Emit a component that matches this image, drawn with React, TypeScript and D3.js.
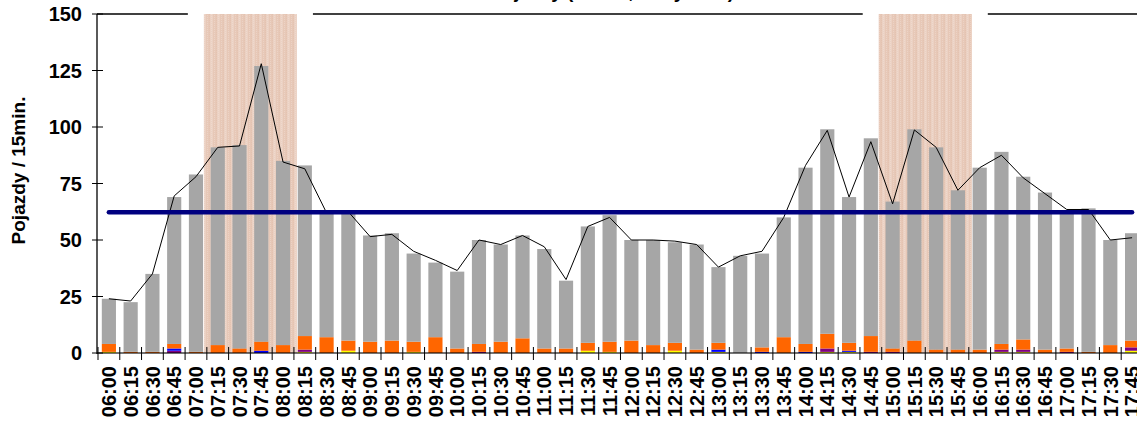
import React from "react";
import * as d3 from "d3";

const categories = [
  "06:00","06:15","06:30","06:45","07:00","07:15","07:30","07:45",
  "08:00","08:15","08:30","08:45","09:00","09:15","09:30","09:45",
  "10:00","10:15","10:30","10:45","11:00","11:15","11:30","11:45",
  "12:00","12:15","12:30","12:45","13:00","13:15","13:30","13:45",
  "14:00","14:15","14:30","14:45","15:00","15:15","15:30","15:45",
  "16:00","16:15","16:30","16:45","17:00","17:15","17:30","17:45",
];

// stacked series, bottom to top
const motocykle = [0.5,0,0,0,0,0,0,0,0,0.5,0,1,0,0,0.5,0,0,0,0,0,0,0,1,0.5,0,0,1,0,0.5,0,0,0,0,0.5,0.5,0,0,0,0,0,0,0.5,0.5,0,0,0,0,1];
const autobusy = [0,0,0,1,0,0,0,0,0,1,0,0,0,0,0,0,0,0.5,0,0,0,0,0,0,0,0,0,0,0,0,0,0,0,1.5,0,0.5,0.5,0,0,0,0,1,1,0,0.5,0,0,1.5];
const ciezarowe = [0,0,0,1,0,0,0,1,0,0,0,0,0,0,0,0,0,0,0,0,0,0,0,0,0,0,0,0,1,0,0.5,0,0.5,0,0.5,0,0,0,0,0,0,0,0,0,0,0,0,0];
const dostawcze = [3.5,0.5,0.5,2,0.5,3.5,2,4,3.5,6,7,4.5,5,5.5,4.5,7,2,3.5,5,6.5,2,2,3.5,4.5,5.5,3.5,3.5,1.5,3,0,2,7,3.5,6.5,3.5,7,1.5,5.5,1.5,1.5,1.5,2.5,4.5,1.5,1.5,0.5,3.5,3];
const osobowe = [20,22,34.5,65,78.5,87.5,90,122,81.5,75.5,56,57.5,47,47.5,39,33,34,46,43,45.5,44,30,51.5,56,44.5,46.5,44.5,46.5,33.5,43,41.5,53,78,90.5,64.5,87.5,65,93.5,89.5,70.5,80.5,85,72,69.5,61,63.5,46.5,47.5];

const lineValues = [24,23,35,69.5,78,91,91.6,128,84.5,81.5,62,62.5,51.5,52.5,45,41,36.5,50,48,52,47,32.5,56,60,50,50,49.5,48,38,43,45,60,83,98.5,69,93.5,66,98.7,91,72,82,87.5,77.5,70.5,63.5,63.5,50,51];
const averageValue = 62.3;

const peakPeriods: [string, string][] = [["07:15", "08:00"], ["15:00", "15:45"]];
const yTicks = [0, 25, 50, 75, 100, 125, 150];

const seriesList = [
  { key: "motocykle", values: motocykle, color: "#FFFF00" },
  { key: "autobusy", values: autobusy, color: "#800080" },
  { key: "ciezarowe", values: ciezarowe, color: "#0000FF" },
  { key: "dostawcze", values: dostawcze, color: "#FF6600" },
  { key: "osobowe", values: osobowe, color: "#A6A6A6" },
];

const W = 1137;
const H = 422;
const left = 98;
const top = 14;
const bottom = 353;
const FONT = "'Liberation Sans', Arial, sans-serif";

export default function App() {
  const step = 21.77;
  const x = d3
    .scaleBand<string>()
    .domain(categories)
    .range([left, left + step * categories.length])
    .paddingInner(0.35)
    .paddingOuter(0.175);
  const y = d3.scaleLinear().domain([0, 150]).range([bottom, top]);

  const rows = categories.map((c, i) => {
    const r: any = { cat: c };
    seriesList.forEach((s) => (r[s.key] = s.values[i]));
    return r;
  });
  const stack = d3.stack<any>().keys(seriesList.map((s) => s.key))(rows);

  const bw = x.bandwidth();
  const half = (x.step() * x.paddingInner()) / 2;
  const cx = (c: string) => (x(c) as number) + bw / 2;

  const line = d3
    .line<number>()
    .x((_, i) => cx(categories[i]))
    .y((v) => y(v));

  const bandStart = (c: string) => (x(c) as number) - half;
  const bandEnd = (c: string) => (x(c) as number) + bw + half;

  return (
    <svg
      width={W}
      height={H}
      style={{ position: "absolute", left: 0, top: 0, background: "#fff" }}
      fontFamily={FONT}
    >
      <defs>
        <pattern id="peak" width="7" height="2" patternUnits="userSpaceOnUse">
          <rect width="7" height="2" fill="#E7C8B7" />
          <rect x="0" y="0" width="3" height="2" fill="#EBD1C3" />
          <rect x="1" y="0" width="1" height="1" fill="#EFD9CD" />
          <rect x="4" y="1" width="1" height="1" fill="#ECD3C6" />
          <rect x="6" y="0" width="1" height="1" fill="#E4C3B1" />
        </pattern>
      </defs>

      {/* title, mostly above the visible area */}
      <text x={612} y={-2.5} textAnchor="middle" fontSize={19} fontWeight="bold">
        Pojazdy (razem, wszystkie)
      </text>

      {/* top frame line */}
      <line x1={left - 1} x2={W} y1={top} y2={top} stroke="#000" strokeWidth={1.3} />

      {/* peak periods */}
      {peakPeriods.map(([a, b], i) => (
        <g key={i}>
          <rect
            x={bandStart(a) - 19}
            y={top - 2}
            width={bandEnd(b) - bandStart(a) + 38}
            height={4}
            fill="#fff"
          />
          <rect
            x={bandStart(a) - 3}
            y={top}
            width={bandEnd(b) - bandStart(a) + 6}
            height={bottom - top}
            fill="url(#peak)"
          />
        </g>
      ))}

      {/* stacked bars */}
      {stack.map((layer, li) => (
        <g key={layer.key} fill={seriesList[li].color}>
          {layer.map((d, i) =>
            d[1] - d[0] > 0 ? (
              <rect
                key={i}
                x={x(categories[i])}
                y={y(d[1])}
                width={bw}
                height={y(d[0]) - y(d[1])}
              />
            ) : null
          )}
        </g>
      ))}

      {/* line series */}
      <path d={line(lineValues) || ""} fill="none" stroke="#000" strokeWidth={1} />

      {/* average line */}
      <line
        x1={cx(categories[0])}
        x2={cx(categories[categories.length - 1])}
        y1={y(averageValue)}
        y2={y(averageValue)}
        stroke="#000080"
        strokeWidth={4.5}
        strokeLinecap="round"
      />

      {/* x axis */}
      <line x1={left - 1} x2={W} y1={bottom} y2={bottom} stroke="#000" strokeOpacity={0.55} strokeWidth={2} />
      {categories.map((c) => (
        <line
          key={"t" + c}
          x1={bandStart(c)}
          x2={bandStart(c)}
          y1={bottom - 6}
          y2={bottom + 7}
          stroke="#000"
          strokeWidth={1}
        />
      ))}
      {categories.map((c) => (
        <text
          key={"l" + c}
          transform={`translate(${cx(c)},${bottom + 13}) rotate(-90)`}
          textAnchor="end"
          dy="0.36em"
          fontSize={20}
          fontWeight="bold"
        >
          {c}
        </text>
      ))}

      {/* y axis */}
      <line x1={left - 1} x2={left - 1} y1={top} y2={bottom + 1} stroke="#000" strokeWidth={1.3} />
      {yTicks.map((t) => (
        <g key={t}>
          <line x1={left - 6} x2={left + 5} y1={y(t)} y2={y(t)} stroke="#000" strokeWidth={1} />
          <text x={left - 16} y={y(t)} dy="0.36em" textAnchor="end" fontSize={20} fontWeight="bold">
            {t}
          </text>
        </g>
      ))}
      <text
        transform={`translate(25,${(top + bottom) / 2 - 13}) rotate(-90)`}
        textAnchor="middle"
        fontSize={19}
        fontWeight="bold"
      >
        Pojazdy / 15min.
      </text>
    </svg>
  );
}
